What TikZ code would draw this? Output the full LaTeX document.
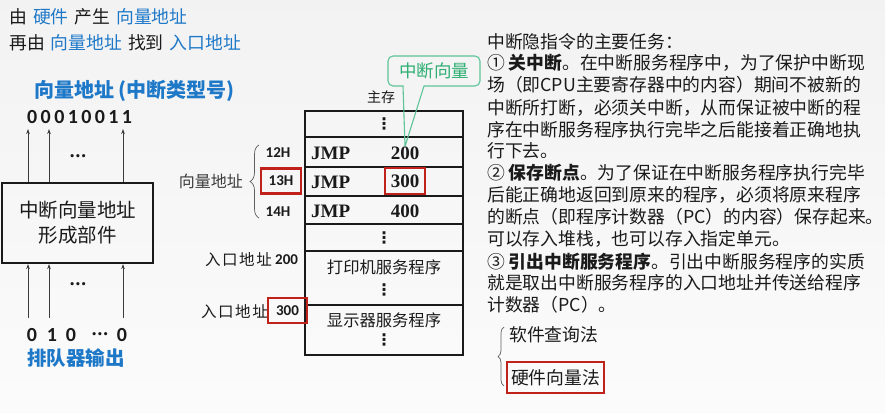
\documentclass[tikz,border=0pt]{standalone}
\usepackage{fontspec}
\setmainfont{Noto Sans CJK SC}
\newfontfamily\cjkfont{Noto Sans CJK SC}
\newfontfamily\cjkwide{Noto Sans CJK SC}[LetterSpace=10]
\newfontfamily\numfont{Carlito}
\newfontfamily\numwide{Carlito}[LetterSpace=17]
\newfontfamily\timesfont{Liberation Serif}
\newfontfamily\symfont{DejaVu Sans}
\usetikzlibrary{arrows.meta,decorations.pathreplacing}

\definecolor{hl}{HTML}{1E78C8}
\definecolor{mark}{HTML}{C0211B}
\definecolor{note}{HTML}{2EAF73}
\definecolor{noteline}{HTML}{5CC497}
\definecolor{ink}{HTML}{1A1A1A}

\newcommand{\fs}[1]{\fontsize{#1}{#1}\selectfont}
\newcommand{\gap}{\hspace{6pt}}

\begin{document}
\begin{tikzpicture}[x=1pt,y=-1pt,
  txt/.style={inner sep=0pt, text=ink},
  body/.style={txt, anchor=west, font=\cjkfont\fs{17.8}},
  up/.style={draw=ink!85, line width=0.8pt, -{Stealth[length=5pt,width=3.6pt]}},
  cell/.style={draw=ink, line width=1.7pt, minimum width=158pt, inner sep=0pt},
  redbox/.style={draw=mark, line width=2.2pt, inner sep=0pt},
  hdots/.style={txt, font=\symfont\bfseries\fs{9}},
  vdot/.style={txt, font=\symfont\bfseries\fs{16}},
  jmp/.style={txt, font=\timesfont\bfseries\fs{19}},
  hexlab/.style={txt, font=\numfont\bfseries\fs{15}},
  bit/.style={txt, font=\numfont\bfseries\fs{20}},
  brace/.style={decorate, draw=ink!70, line width=0.7pt}
]
% page and background
\useasboundingbox (0,0) rectangle (885,412);
\shade[top color=gray!10, bottom color=gray!3] (0,0) rectangle (885,412);

% heading lines
\node[txt, anchor=west, font=\cjkfont\fs{17.8}] (t1) at (9,17)
  {由\gap\textcolor{hl}{硬件}\gap 产生\gap\textcolor{hl}{向量地址}};
\node[txt, anchor=west, font=\cjkfont\fs{17.8}] (t2) at (9,43)
  {再由\gap\textcolor{hl}{向量地址}\gap 找到\gap\textcolor{hl}{入口地址}};

% vector address generator
\node[txt, anchor=west, text=hl, font=\cjkfont\bfseries\fs{20}] (vt) at (34,91) {向量地址 (中断类型号)};
\node[txt, anchor=west, font=\numwide\bfseries\fs{20}] (bits) at (27,117) {00010011};

\node[draw=ink, line width=2.2pt, minimum width=151pt, minimum height=80pt, inner sep=0pt,
      align=center, text=ink, font=\cjkfont\fontsize{19.5}{25}\selectfont] (gen) at (77.5,223)
  {中断向量地址\\形成部件};

\coordinate (a1) at (28,129);
\coordinate (a2) at (49,129);
\coordinate (a3) at (123,129);
\draw[up] (gen.north -| a1) -- (a1);
\draw[up] (gen.north -| a2) -- (a2);
\draw[up] (gen.north -| a3) -- (a3);
\node[hdots] (d1) at (78,157) {•••};

\coordinate (b1) at (28,318);
\coordinate (b2) at (49,318);
\coordinate (b3) at (123,318);
\draw[up] (b1) -- (b1 |- gen.south);
\draw[up] (b2) -- (b2 |- gen.south);
\draw[up] (b3) -- (b3 |- gen.south);
\node[hdots] (d2) at (78,285) {•••};

\node[bit] (q1) at (32,335) {0};
\node[bit] (q2) at (52,335) {1};
\node[bit] (q3) at (71,335) {0};
\node[hdots] (q4) at (100,335) {•••};
\node[bit] (q5) at (122,335) {0};
\node[txt, text=hl, font=\cjkfont\bfseries\fs{19.5}] (qo) at (76,358) {排队器输出};

% main memory
\node[txt, font=\cjkfont\fs{14}] (ms) at (381,97) {主存};
\node[cell, minimum height=26pt] (m0) at (384,124) {};
\node[cell, minimum height=30pt] (m1) at (384,152) {};
\node[cell, minimum height=29pt] (m2) at (384,181.5) {};
\node[cell, minimum height=28pt] (m3) at (384,210) {};
\node[cell, minimum height=27pt] (m4) at (384,237.5) {};
\node[cell, minimum height=54pt] (m5) at (384,278) {};
\node[cell, minimum height=50pt] (m6) at (384,330) {};

\node[vdot] (v0) at (m0) {⋮};
\node[jmp, anchor=west] (j1) at (311,153) {JMP};
\node[jmp, anchor=west] (j2) at (311,182) {JMP};
\node[jmp, anchor=west] (j3) at (311,211) {JMP};
\node[jmp] (n1) at (405,153) {200};
\node[redbox, minimum width=40pt, minimum height=26pt, text=ink,
      font=\timesfont\bfseries\fs{19}] (n2) at (405,181) {300};
\node[jmp] (n3) at (405,211) {400};
\node[vdot] (v4) at (m4) {⋮};
\node[txt, font=\cjkfont\fs{16.3}] (s1) at (384,267) {打印机服务程序};
\node[vdot] (v5) at (384,290) {⋮};
\node[txt, font=\cjkfont\fs{16.3}] (s2) at (384,320) {显示器服务程序};
\node[vdot] (v6) at (384,340) {⋮};

% vector addresses
\node[hexlab] (h1) at (278,153) {12H};
\node[redbox, minimum width=40pt, minimum height=25pt, text=ink,
      font=\numfont\bfseries\fs{15}] (h2) at (281,181) {13H};
\node[hexlab] (h3) at (278,212) {14H};
\coordinate (br1) at (259,218);
\coordinate (br2) at (259,145);
\draw[brace, decoration={brace, amplitude=9pt}] (br1) -- (br2);
\node[txt, anchor=east, text=ink!85, font=\cjkfont\fs{16}] (vl) at (243,181) {向量地址};

% entry addresses
\node[txt, anchor=east, font=\cjkwide\fs{15.5}] (e1) at (272,260) {入口地址};
\node[hexlab, anchor=west] (e1n) at (275,260) {200};
\node[txt, anchor=east, font=\cjkwide\fs{15.5}] (e2) at (268,312) {入口地址};
\node[redbox, minimum width=39pt, minimum height=25pt, text=ink,
      font=\numfont\bfseries\fs{15}] (e2n) at (287.5,310.5) {300};

% callout naming the interrupt vector
\node[txt, text=note, font=\cjkfont\fs{17.5}] (cv) at (434,71) {中断向量};
\draw[noteline, line width=1.1pt]
  (n1.north) -- (403,86) [rounded corners=5pt] -- (388,86) -- (388,56) -- (480,56)
  -- (480,86) [sharp corners] -- (424,86) -- (n1.north);

% tasks of the interrupt implicit instruction
\node[body] (l1)  at (487,42)  {中断隐指令的主要任务：};
\node[body] (l2)  at (487,63)  {① \textbf{关中断}。在中断服务程序中，为了保护中断现};
\node[body] (l3)  at (487,85)  {场（即CPU主要寄存器中的内容）期间不被新的};
\node[body] (l4)  at (487,108) {中断所打断，必须关中断，从而保证被中断的程};
\node[body] (l5)  at (487,130) {序在中断服务程序执行完毕之后能接着正确地执};
\node[body] (l6)  at (487,151) {行下去。};
\node[body] (l7)  at (487,173) {② \textbf{保存断点}。为了保证在中断服务程序执行完毕};
\node[body] (l8)  at (487,195) {后能正确地返回到原来的程序，必须将原来程序};
\node[body] (l9)  at (487,217) {的断点（即程序计数器（PC）的内容）保存起来。};
\node[body] (l10) at (487,239) {可以存入堆栈，也可以存入指定单元。};
\node[body] (l11) at (487,262) {③ \textbf{引出中断服务程序}。引出中断服务程序的实质};
\node[body] (l12) at (487,283) {就是取出中断服务程序的入口地址并传送给程序};
\node[body] (l13) at (487,305) {计数器（PC）。};

% two ways of identifying the source
\coordinate (bb1) at (504,386);
\coordinate (bb2) at (504,327);
\draw[brace, decoration={brace, amplitude=6pt}] (bb1) -- (bb2);
\node[body] (sw1) at (509,335) {软件查询法};
\node[redbox, minimum width=97pt, minimum height=31pt, text=ink,
      font=\cjkfont\fs{17.8}] (sw2) at (555.5,377.5) {硬件向量法};
\end{tikzpicture}
\end{document}
